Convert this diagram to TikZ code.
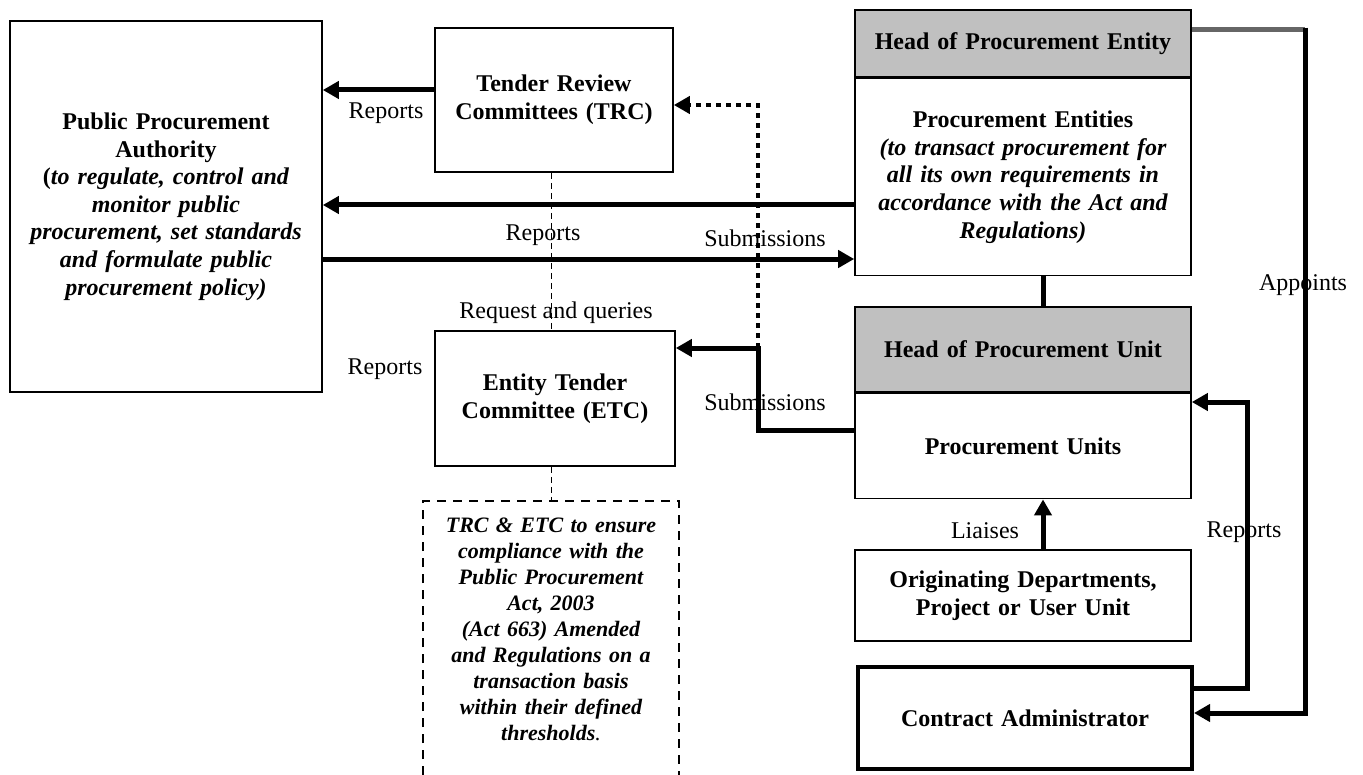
\documentclass[tikz,border=0pt]{standalone}
\usepackage{fontspec}
\setmainfont{Liberation Serif}
\usetikzlibrary{arrows.meta,positioning}
\definecolor{headgray}{HTML}{C0C0C0}
\definecolor{linegray}{HTML}{666666}

\begin{document}
\begin{tikzpicture}[x=0.5pt,y=-0.5pt,
    font=\fontsize{12}{13.8}\selectfont,
    box/.style={draw,line width=0.8pt,inner sep=0pt,align=center,
      font=\fontsize{12}{13.8}\selectfont\bfseries},
    head/.style={box,fill=headgray},
    lbl/.style={inner sep=0pt},
    arr/.style={line width=2.5pt,-{Triangle[length=8pt,width=8.5pt]}},
    link/.style={line width=2.5pt},
    dotarr/.style={line width=2pt,dash pattern=on 2.5pt off 2.5pt,-{Triangle[length=8pt,width=8.5pt]}},
    tdash/.style={line width=0.5pt,dash pattern=on 3pt off 2pt},
    notebox/.style={line width=1.3pt,dash pattern=on 4.5pt off 3.5pt}]
    \useasboundingbox (0,0) rectangle (1363,775);
    \node[box,text width=156pt,minimum height=185.5pt] (ppa) at (166,206.5)
      {Public Procurement\\Authority\\(\itshape to regulate, control and\\monitor public\\procurement, set standards\\and formulate public\\procurement policy)};
    \node[box,text width=119pt,minimum height=72pt] (trc) at (554,100) {Tender Review\\Committees (TRC)};
    \node[box,text width=120pt,minimum height=67.5pt] (etc) at (555,398.5) {Entity Tender\\Committee (ETC)};
    \node[head,text width=168pt,minimum height=33.5pt] (peh) at (1023,43.5) {Head of Procurement Entity};
    \node[box,text width=168pt,minimum height=98.5pt,below=0pt of peh] (pe)
      {Procurement Entities\\\itshape(to transact procurement for\\all its own requirements in\\accordance with the Act and\\Regulations)};
    \node[head,text width=168pt,minimum height=42.5pt] (puh) at (1023,349.5) {Head of Procurement Unit};
    \node[box,text width=168pt,minimum height=52.5pt,below=0pt of puh] (pu) {Procurement Units};
    \node[box,text width=168pt,minimum height=45.5pt] (odp) at (1023,595.5) {Originating Departments,\\Project or User Unit};
    \node[box,line width=2pt,text width=167pt,minimum height=51pt] (ca) at (1025,718) {Contract Administrator};
    \node[lbl,align=center,text width=125pt,font=\fontsize{11}{13}\selectfont\bfseries\itshape] (note) at (551,629)
      {TRC \& ETC to ensure\\compliance with the\\Public Procurement\\Act, 2003\\(Act 663) Amended\\and Regulations on a\\transaction basis\\within their defined\\thresholds{\mdseries.}};
    \draw[notebox] (423,775) |- (551,501) -| (679,775);
    \node[lbl] (l1) at (386,113) {Reports};
    \node[lbl] (l2) at (543,235) {Reports};
    \node[lbl] (l3) at (765,238) {Submissions};
    \node[lbl] (l4) at (556,313) {Request and queries};
    \node[lbl] (l5) at (385,369) {Reports};
    \node[lbl] (l6) at (765,402) {Submissions};
    \node[lbl] (l7) at (985,531) {Liaises};
    \node[lbl] (l8) at (1244,532) {Reports};
    \node[lbl] (l9) at (1303,285) {Appoints};
    \coordinate (nt) at (551,501);
    \coordinate (jn) at (758,348);
    \coordinate (dt) at (758,105);
    \coordinate (mid) at (1043,0);
    \coordinate (rp) at (1247,402);
    \coordinate (ap) at (1305,30);
    \draw[tdash] (trc.south -| nt) -- (etc.north -| nt);
    \draw[tdash] (etc.south -| nt) -- (nt);
    \draw[arr] (trc.west |- 0,90) -- (ppa.east |- 0,90);
    \draw[arr] (pe.west |- 0,205) -- (ppa.east |- 0,205);
    \draw[arr] (ppa.east |- 0,259) -- (pe.west |- 0,259);
    \draw[dotarr] (jn) -- (dt) -- (trc.east |- dt);
    \draw[arr] (pu.west |- 0,430) -| (jn) -- (etc.east |- jn);
    \draw[link] (pe.south -| mid) -- (puh.north -| mid);
    \draw[arr] (odp.north -| mid) -- (pu.south -| mid);
    \draw[arr] (ca.east |- 0,688) -| (rp) -- (pu.east |- rp);
    \draw[link,linegray] (peh.east |- ap) -- (ap);
    \draw[arr] ([yshift=1.2pt]ap) |- (ca.east |- 0,713);
\end{tikzpicture}
\end{document}
